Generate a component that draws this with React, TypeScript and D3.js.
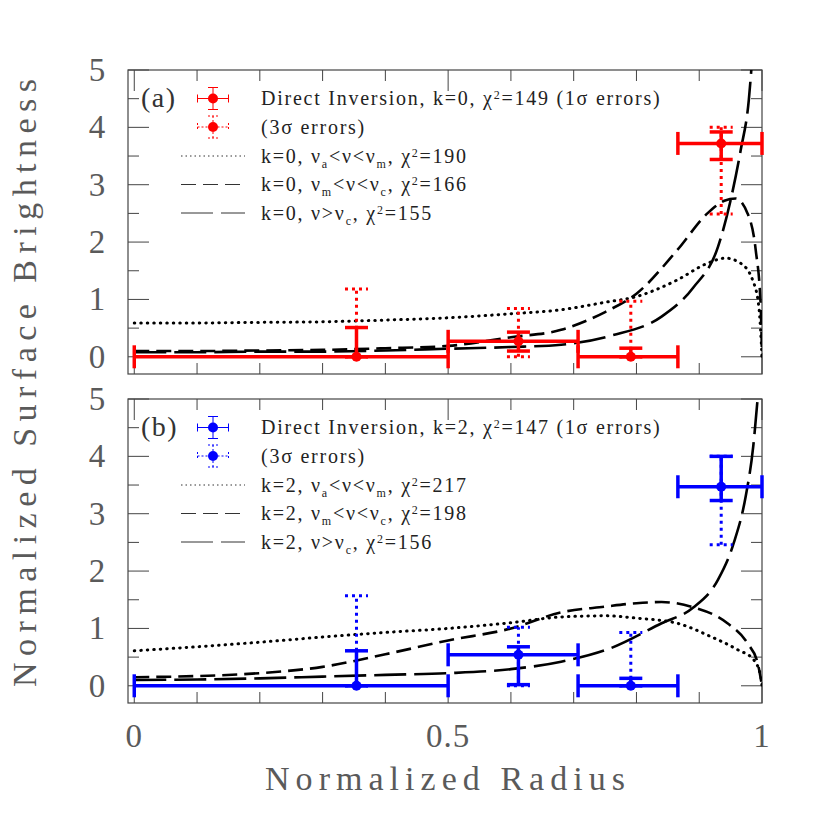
import React, { useEffect, useRef } from 'react';
import * as d3 from 'd3';

// equal-area bins and the direct-inversion points
const binLeft = [0, 0.5, 0.707, 0.866];
const binRight = [0.5, 0.707, 0.866, 1.0];
const binMid = [0.354, 0.612, 0.791, 0.935];

// panel (a), k=0
const aValue = [0, 0.27, 0, 3.72];
const aHi1 = [0.51, 0.43, 0.15, 3.92];
const aLo1 = [0, 0.1, 0, 3.44];
const aHi3 = [1.18, 0.84, 0.97, 4.0];
const aLo3 = [0, 0, 0, 2.49];

// panel (b), k=2
const bValue = [0, 0.54, 0, 3.47];
const bHi1 = [0.61, 0.68, 0.13, 4.0];
const bLo1 = [0, 0.02, 0, 3.23];
const bHi3 = [1.57, 1.02, 0.93, 4.0];
const bLo3 = [0, 0, 0, 2.46];

// model curves (a)
const aDotX = [0, 0.1, 0.2, 0.3, 0.4, 0.5, 0.6, 0.68, 0.75, 0.8, 0.865, 0.913, 0.942, 0.966, 0.985, 0.995, 1.0];
const aDotY = [0.59, 0.59, 0.6, 0.61, 0.64, 0.68, 0.75, 0.82, 0.95, 1.05, 1.34, 1.63, 1.72, 1.63, 1.34, 0.87, 0];
const aDashX = [0, 0.1, 0.2, 0.3, 0.4, 0.5, 0.6, 0.68, 0.75, 0.8, 0.865, 0.913, 0.94, 0.958, 0.977, 0.99, 0.998, 1.0];
const aDashY = [0.1, 0.1, 0.11, 0.12, 0.15, 0.19, 0.34, 0.47, 0.78, 1.1, 1.86, 2.5, 2.72, 2.76, 2.5, 1.86, 0.87, 0];
const aLongX = [0, 0.1, 0.2, 0.3, 0.4, 0.5, 0.6, 0.68, 0.76, 0.84, 0.89, 0.93, 0.95, 0.966, 0.979, 0.985];
const aLongY = [0.08, 0.08, 0.09, 0.09, 0.11, 0.14, 0.17, 0.21, 0.37, 0.7, 1.2, 1.92, 2.73, 3.6, 4.48, 5.3];

// model curves (b)
const bDotX = [0, 0.1, 0.2, 0.3, 0.4, 0.5, 0.6, 0.68, 0.75, 0.8, 0.865, 0.918, 0.961, 0.987, 0.998, 1.0];
const bDotY = [0.61, 0.68, 0.76, 0.85, 0.93, 1.0, 1.1, 1.2, 1.22, 1.18, 1.09, 0.86, 0.63, 0.45, 0.16, 0];
const bDashX = [0, 0.1, 0.2, 0.3, 0.4, 0.5, 0.6, 0.68, 0.75, 0.8, 0.84, 0.89, 0.945, 0.977, 0.993, 1.0];
const bDashY = [0.15, 0.17, 0.22, 0.33, 0.55, 0.79, 1.0, 1.28, 1.38, 1.44, 1.46, 1.37, 1.09, 0.74, 0.4, 0];
const bLongX = [0, 0.1, 0.2, 0.3, 0.4, 0.5, 0.6, 0.68, 0.76, 0.84, 0.89, 0.93, 0.955, 0.974, 0.986, 0.993];
const bLongY = [0.1, 0.11, 0.13, 0.16, 0.19, 0.22, 0.29, 0.42, 0.66, 1.09, 1.36, 1.85, 2.49, 3.3, 4.17, 5.0];

const xTickLabels = ['0', '0.5', '1'];
const yTickLabels = ['0', '1', '2', '3', '4', '5'];

// legend text pieces: [text, '' | 'sub' | 'sup']
const aLegend = [
  [['Direct Inversion, k=0, χ', ''], ['2', 'sup'], ['=149 (1σ errors)', '']],
  [['(3σ errors)', '']],
  [['k=0, ν', ''], ['a', 'sub'], ['<ν<ν', ''], ['m', 'sub'], [', χ', ''], ['2', 'sup'], ['=190', '']],
  [['k=0, ν', ''], ['m', 'sub'], ['<ν<ν', ''], ['c', 'sub'], [', χ', ''], ['2', 'sup'], ['=166', '']],
  [['k=0, ν>ν', ''], ['c', 'sub'], [', χ', ''], ['2', 'sup'], ['=155', '']],
];
const bLegend = [
  [['Direct Inversion, k=2, χ', ''], ['2', 'sup'], ['=147 (1σ errors)', '']],
  [['(3σ errors)', '']],
  [['k=2, ν', ''], ['a', 'sub'], ['<ν<ν', ''], ['m', 'sub'], [', χ', ''], ['2', 'sup'], ['=217', '']],
  [['k=2, ν', ''], ['m', 'sub'], ['<ν<ν', ''], ['c', 'sub'], [', χ', ''], ['2', 'sup'], ['=198', '']],
  [['k=2, ν>ν', ''], ['c', 'sub'], [', χ', ''], ['2', 'sup'], ['=156', '']],
];

const DOT = '0.5,6';
const DASH = '15,7';
const LONG = '32,8';

const panels = [
  {
    key: 'a', label: '(a)', color: '#ff0000', top: 70,
    value: aValue, hi1: aHi1, lo1: aLo1, hi3: aHi3, lo3: aLo3, legend: aLegend,
    curves: [
      { xs: aDotX, ys: aDotY, dash: DOT },
      { xs: aDashX, ys: aDashY, dash: DASH },
      { xs: aLongX, ys: aLongY, dash: LONG },
    ],
  },
  {
    key: 'b', label: '(b)', color: '#0000ff', top: 399,
    value: bValue, hi1: bHi1, lo1: bLo1, hi3: bHi3, lo3: bLo3, legend: bLegend,
    curves: [
      { xs: bDotX, ys: bDotY, dash: DOT },
      { xs: bDashX, ys: bDashY, dash: DASH },
      { xs: bLongX, ys: bLongY, dash: LONG },
    ],
  },
];

export default function App() {
  const svgRef = useRef<SVGSVGElement>(null);

  useEffect(() => {
    const svg = d3.select(svgRef.current);
    svg.selectAll('*').remove();

    const left = 128;
    const right = 762;
    const ph = 304;
    const cap = 11.5;
    const axisColor = '#444';
    const labelColor = '#5a5a5a';

    const x = d3.scaleLinear().domain([-0.01, 1]).range([left, right]);

    panels.forEach((p) => {
      const top = p.top;
      const bottom = top + ph;
      const y = d3.scaleLinear().domain([-0.3, 5]).range([bottom, top]);
      const g = svg.append('g');

      const clipId = `clip-${p.key}`;
      svg.append('clipPath').attr('id', clipId)
        .append('rect')
        .attr('x', left).attr('y', top)
        .attr('width', right - left).attr('height', ph);

      // frame
      g.append('rect')
        .attr('x', left).attr('y', top)
        .attr('width', right - left).attr('height', ph)
        .attr('fill', 'none').attr('stroke', axisColor).attr('stroke-width', 1.2);

      // x ticks, top and bottom
      d3.range(0, 11).forEach((k) => {
        const xv = x(k / 10);
        const len = k % 5 === 0 ? 21 : 11;
        g.append('line').attr('x1', xv).attr('x2', xv).attr('y1', bottom).attr('y2', bottom - len)
          .attr('stroke', axisColor).attr('stroke-width', 1);
        g.append('line').attr('x1', xv).attr('x2', xv).attr('y1', top).attr('y2', top + len)
          .attr('stroke', axisColor).attr('stroke-width', 1);
      });

      // y ticks, left and right
      d3.range(0, 11).forEach((k) => {
        const yv = y(k / 2);
        const len = k % 2 === 0 ? 21 : 11;
        g.append('line').attr('x1', left).attr('x2', left + len).attr('y1', yv).attr('y2', yv)
          .attr('stroke', axisColor).attr('stroke-width', 1);
        g.append('line').attr('x1', right).attr('x2', right - len).attr('y1', yv).attr('y2', yv)
          .attr('stroke', axisColor).attr('stroke-width', 1);
      });

      // y tick labels
      g.selectAll('.ylab')
        .data(yTickLabels)
        .enter()
        .append('text')
        .attr('x', 97)
        .attr('y', (d) => y(+d) + 11)
        .attr('text-anchor', 'middle')
        .attr('font-family', 'Liberation Serif')
        .attr('font-size', 33)
        .attr('fill', labelColor)
        .text((d) => d);

      // model curves
      const line = d3.line<[number, number]>()
        .x((d) => x(d[0]))
        .y((d) => y(d[1]))
        .curve(d3.curveMonotoneX);

      p.curves.forEach((c) => {
        g.append('path')
          .attr('d', line(d3.zip(c.xs, c.ys) as [number, number][]))
          .attr('clip-path', `url(#${clipId})`)
          .attr('fill', 'none')
          .attr('stroke', '#000')
          .attr('stroke-width', c.dash === DOT ? 3 : 2.6)
          .attr('stroke-linecap', c.dash === DOT ? 'round' : 'butt')
          .attr('stroke-dasharray', c.dash);
      });

      // 3 sigma errors (dotted)
      binMid.forEach((m, j) => {
        const cx = x(m);
        const dotted = (sel: any) => sel.attr('stroke', p.color).attr('stroke-width', 3)
          .attr('stroke-dasharray', '3,4');
        dotted(g.append('line').attr('x1', cx).attr('x2', cx)
          .attr('y1', y(p.lo3[j])).attr('y2', y(p.hi3[j])));
        [p.lo3[j], p.hi3[j]].forEach((v) => {
          dotted(g.append('line').attr('x1', cx - cap).attr('x2', cx + cap)
            .attr('y1', y(v)).attr('y2', y(v)));
        });
      });

      // 1 sigma errors and bin widths
      binMid.forEach((m, j) => {
        const cx = x(m);
        const cy = y(p.value[j]);
        const solid = (sel: any) => sel.attr('stroke', p.color).attr('stroke-width', 3.5);
        solid(g.append('line').attr('x1', cx).attr('x2', cx)
          .attr('y1', y(p.lo1[j])).attr('y2', y(p.hi1[j])));
        [p.lo1[j], p.hi1[j]].forEach((v) => {
          solid(g.append('line').attr('x1', cx - cap).attr('x2', cx + cap)
            .attr('y1', y(v)).attr('y2', y(v)));
        });
        const x0 = x(binLeft[j]);
        const x1 = x(binRight[j]);
        solid(g.append('line').attr('x1', x0).attr('x2', x1).attr('y1', cy).attr('y2', cy));
        [x0, x1].forEach((xv) => {
          solid(g.append('line').attr('x1', xv).attr('x2', xv)
            .attr('y1', cy - cap).attr('y2', cy + cap));
        });
        g.append('circle').attr('cx', cx).attr('cy', cy).attr('r', 5).attr('fill', p.color);
      });

      // panel label
      g.append('text')
        .attr('x', 141).attr('y', top + 37)
        .attr('font-family', 'Liberation Serif')
        .attr('font-size', 28)
        .attr('letter-spacing', 1.5)
        .attr('fill', '#333')
        .text(p.label);

      // legend
      const rowY = [28.5, 57, 86, 114.5, 143].map((d) => top + d);
      const sx = 213;
      [0, 1].forEach((r) => {
        const cy = rowY[r];
        const style = (sel: any) => {
          sel.attr('stroke', p.color).attr('stroke-width', 1);
          if (r === 1) sel.attr('stroke-dasharray', '2,2');
          return sel;
        };
        style(g.append('line').attr('x1', sx - 15.5).attr('x2', sx + 15.5).attr('y1', cy).attr('y2', cy));
        style(g.append('line').attr('x1', sx).attr('x2', sx).attr('y1', cy - 11).attr('y2', cy + 11));
        [-15.5, 15.5].forEach((dx) => style(g.append('line')
          .attr('x1', sx + dx).attr('x2', sx + dx).attr('y1', cy - 4).attr('y2', cy + 4)));
        [-11, 11].forEach((dy) => style(g.append('line')
          .attr('x1', sx - 5).attr('x2', sx + 5).attr('y1', cy + dy).attr('y2', cy + dy)));
        g.append('circle').attr('cx', sx).attr('cy', cy).attr('r', 5).attr('fill', p.color);
      });
      [DOT, DASH, LONG].forEach((dash, i) => {
        const cy = rowY[i + 2];
        g.append('line').attr('x1', 181).attr('x2', 245).attr('y1', cy).attr('y2', cy)
          .attr('stroke', '#333').attr('stroke-width', 1)
          .attr('stroke-dasharray', dash === DOT ? '1.5,3' : dash);
      });

      p.legend.forEach((row, i) => {
        const t = g.append('text')
          .attr('x', 261).attr('y', rowY[i] + 6.5)
          .attr('font-family', 'Liberation Serif')
          .attr('font-size', 20)
          .attr('letter-spacing', 1.75)
          .attr('fill', '#222');
        let shift = 0;
        row.forEach(([txt, kind]) => {
          const target = kind === 'sub' ? 5 : kind === 'sup' ? -6 : 0;
          t.append('tspan')
            .attr('dy', target - shift)
            .attr('font-size', kind ? 12 : 20)
            .text(txt);
          shift = target;
        });
      });
    });

    // axis titles
    svg.append('text')
      .attr('x', 445).attr('y', 790)
      .attr('text-anchor', 'middle')
      .attr('font-family', 'Liberation Serif')
      .attr('font-size', 34)
      .attr('textLength', 360)
      .attr('fill', labelColor)
      .text('Normalized Radius');

    svg.append('text')
      .attr('transform', 'translate(36,383) rotate(-90)')
      .attr('text-anchor', 'middle')
      .attr('font-family', 'Liberation Serif')
      .attr('font-size', 34)
      .attr('textLength', 608)
      .attr('fill', labelColor)
      .text('Normalized Surface Brightness');

    // x tick labels
    svg.selectAll('.xlab')
      .data(xTickLabels)
      .enter()
      .append('text')
      .attr('x', (d) => x(+d))
      .attr('y', 747)
      .attr('text-anchor', 'middle')
      .attr('font-family', 'Liberation Serif')
      .attr('font-size', 33)
      .attr('letter-spacing', 1)
      .attr('fill', labelColor)
      .text((d) => d);
  }, []);

  return (
    <svg
      ref={svgRef}
      width={830}
      height={830}
      style={{ position: 'absolute', left: 0, top: 0, background: '#fff' }}
    />
  );
}
